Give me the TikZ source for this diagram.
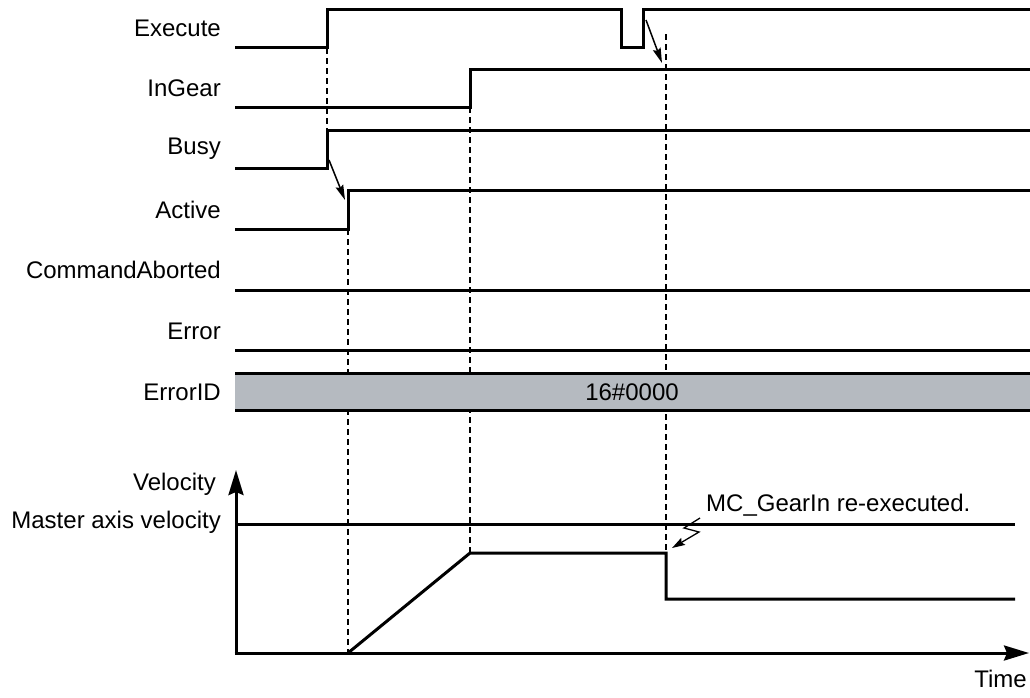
\documentclass[tikz,border=0pt]{standalone}
\usepackage{fontspec}
\setmainfont{Liberation Sans}
\usetikzlibrary{arrows.meta}
\begin{document}
\begin{tikzpicture}[x=1pt,y=-1pt,
  sig/.style={line width=3pt,line join=miter},
  vel/.style={line width=3pt},
  guide/.style={line width=1.3pt,dash pattern=on 6pt off 4pt},
  lbl/.style={anchor=east,inner sep=0pt,font=\fontsize{24}{27}\selectfont},
  txt/.style={inner sep=0pt,font=\fontsize{24}{27}\selectfont},
  causal/.style={line width=1.5pt,-{Stealth[length=15pt,width=8pt,inset=2pt]}},
  axisarrow/.style={line width=3pt,-{Stealth[length=25pt,width=15pt,inset=3pt]}}]
\useasboundingbox (0,0) rectangle (1030,697);
% labels
\node[lbl] (lExec) at (221,28) {Execute};
\node[lbl] (lInGear) at (221,88) {InGear};
\node[lbl] (lBusy) at (221,149) {Busy};
\node[lbl] (lActive) at (221,210) {Active};
\node[lbl] (lCA) at (221,270) {CommandAborted};
\node[lbl] (lErr) at (221,331) {Error};
\node[lbl] (lEID) at (221,392) {ErrorID};
\node[lbl] (lVel) at (216,484) {Velocity};
\node[lbl] (lMaster) at (221,522) {Master axis velocity};
% guides
\draw[guide] (327,48) -- (327,129);
\draw[guide] (348,229) -- (348,653);
\draw[guide] (470,107) -- (470,553);
\draw[guide] (666,34) -- (666,553);
% ErrorID box
\fill[fill={rgb,255:red,181;green,186;blue,192}] (235,373) rectangle (1030,410);
\draw[sig] (235,373) -- (1030,373);
\draw[sig] (235,410) -- (1030,410);
\node[txt] (eidval) at (632,392) {16\#0000};
% signals
\draw[sig] (235,47) -- (327,47) -- (327,9) -- (621,9) -- (621,47) -- (643,47) -- (643,9) -- (1030,9);
\draw[sig] (235,107) -- (470,107) -- (470,69) -- (1030,69);
\draw[sig] (235,168) -- (327,168) -- (327,130) -- (1030,130);
\draw[sig] (235,229) -- (348,229) -- (348,190) -- (1030,190);
\draw[sig] (235,290) -- (1030,290);
\draw[sig] (235,350) -- (1030,350);
% causal arrows
\coordinate (a1s) at (646,20);
\coordinate (a1e) at (662,63);
\draw[causal] (a1s) -- (a1e);
\coordinate (a2s) at (329,160);
\coordinate (a2e) at (345,200);
\draw[causal] (a2s) -- (a2e);
% velocity axes
\coordinate (orig) at (236,653);
\coordinate (ytop) at (236,470);
\coordinate (xend) at (1029,653);
\draw[axisarrow] (236,654.5) -- (ytop);
\draw[axisarrow] (234.5,653) -- (xend);
\draw[vel] (236,524) -- (1015,524);
\draw[vel,line join=miter] (348,653) -- (470,553) -- (666,553) -- (666,599) -- (1015,599);
\node[txt,anchor=north east] (lTime) at (1027,670) {Time};
% annotation
\node[txt,anchor=west] (lRe) at (706,505) {MC\_GearIn re-executed.};
\coordinate (z0) at (700,518);
\coordinate (z1) at (684,528);
\coordinate (z2) at (699,532);
\coordinate (z3) at (672,548);
\draw[line width=1.3pt,-{Stealth[length=13pt,width=8pt,inset=2pt]}] (z0) -- (z1) -- (z2) -- (z3);
\end{tikzpicture}
\end{document}
